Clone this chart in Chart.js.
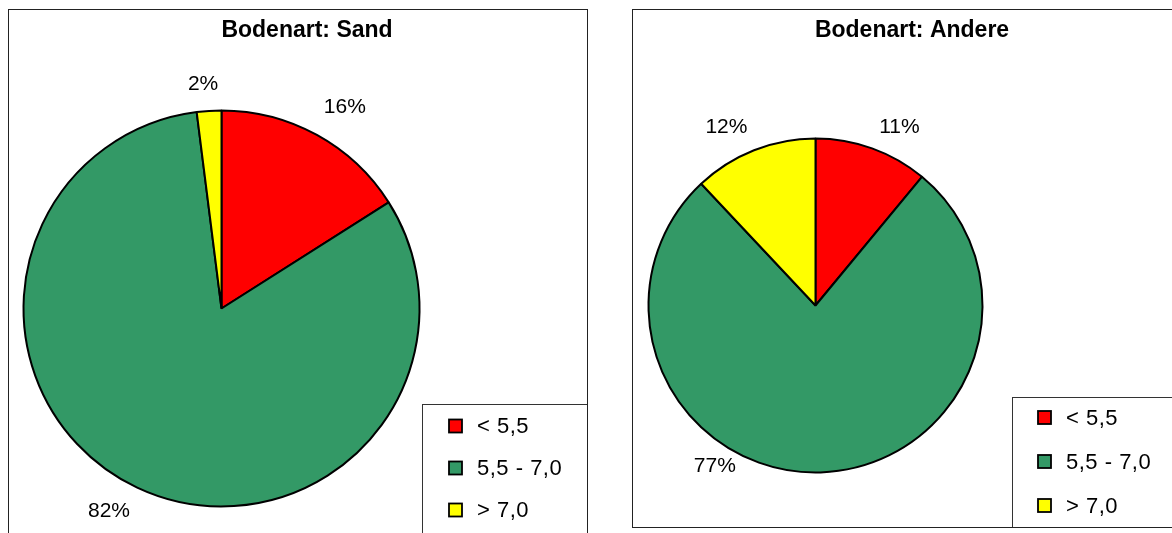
<!DOCTYPE html>
<html>
<head>
<meta charset="utf-8">
<title>pH-Werte nach Bodenart</title>
<script src="https://cdn.jsdelivr.net/npm/chart.js@4"></script>
<style>
  html, body { margin: 0; padding: 0; background: #fff; overflow: hidden; }
  body { width: 1172px; height: 533px; position: relative; }
  .panel { position: absolute; border: 1px solid #222; box-sizing: border-box; background: #fff; }
  #panelSand { left: 8px; top: 9px; width: 580px; height: 545px; }
  #panelAndere { left: 632px; top: 9px; width: 560px; height: 519px; }
  canvas { display: block; }
</style>
</head>
<body>
<div class="panel" id="panelSand"><canvas id="chartSand" width="578" height="543"></canvas></div>
<div class="panel" id="panelAndere"><canvas id="chartAndere" width="558" height="517"></canvas></div>
<script>
// pH-Klassen und Anteile (%) je Bodenart
const phClasses = ["< 5,5", "5,5 - 7,0", "> 7,0"];
const sandShares = [16, 82, 2];
const andereShares = [11, 77, 12];
const chartTitles = ["Bodenart: Sand", "Bodenart: Andere"];
const sliceColors = ["#ff0000", "#339966", "#ffff00"];

const FONT = "'Liberation Sans', Arial, Helvetica, sans-serif";

// Titel, Prozentbeschriftung und Legendenkasten im Excel-Stil
const soilPiePlugin = {
  id: "soilPie",
  afterDraw(chart, args, opts) {
    const ctx = chart.ctx;
    const ds = chart.data.datasets[0];
    const meta = chart.getDatasetMeta(0);
    const total = ds.data.reduce((a, b) => a + b, 0);

    ctx.save();
    ctx.fillStyle = "#000";
    ctx.textAlign = "center";
    ctx.textBaseline = "middle";

    // Titel
    ctx.font = "bold 23px " + FONT;
    ctx.fillText(opts.title, opts.titleX, opts.titleY);

    // Prozentwerte außerhalb der Segmente
    ctx.font = "21px " + FONT;
    meta.data.forEach((arc, i) => {
      const p = arc.getProps(["x", "y", "startAngle", "endAngle", "outerRadius"], true);
      const nudge = opts.labelNudge[i];
      const mid = (p.startAngle + p.endAngle) / 2 + nudge[0] * Math.PI / 180;
      const r = p.outerRadius + nudge[1];
      const txt = Math.round(ds.data[i] / total * 100) + "%";
      ctx.fillText(txt, p.x + Math.cos(mid) * r, p.y + Math.sin(mid) * r);
    });

    // Legende
    const lg = opts.legend;
    ctx.strokeStyle = "#333";
    ctx.lineWidth = 1;
    ctx.strokeRect(lg.x + 0.5, lg.y + 0.5, lg.w, lg.h);
    ctx.font = "22px " + FONT;
    ctx.letterSpacing = "0.5px";
    ctx.textAlign = "left";
    chart.data.labels.forEach((label, i) => {
      const cy = lg.firstRow + i * lg.rowGap;
      ctx.fillStyle = ds.backgroundColor[i];
      ctx.fillRect(lg.boxX, cy - lg.box / 2, lg.box, lg.box);
      ctx.strokeStyle = "#000";
      ctx.lineWidth = 1.8;
      ctx.strokeRect(lg.boxX, cy - lg.box / 2, lg.box, lg.box);
      ctx.fillStyle = "#000";
      ctx.fillText(label, lg.textX, cy + 1);
    });
    ctx.restore();
  }
};

function makePie(canvasId, values, title, radius, padding, extra) {
  return new Chart(document.getElementById(canvasId), {
    type: "pie",
    data: {
      labels: phClasses,
      datasets: [{
        data: values,
        backgroundColor: sliceColors,
        borderColor: "#000",
        borderWidth: 2,
        radius: radius
      }]
    },
    options: {
      responsive: false,
      animation: false,
      events: [],
      layout: { padding: padding },
      plugins: {
        legend: { display: false },
        title: { display: false },
        tooltip: { enabled: false },
        soilPie: Object.assign({ title: title }, extra)
      }
    },
    plugins: [soilPiePlugin]
  });
}

makePie("chartSand", sandShares, chartTitles[0], 198,
  { left: 0, right: 153, top: 60, bottom: 6 },
  {
    titleX: 298, titleY: 20.5,
    labelNudge: [[2.7, 38], [3.8, 34], [-1.1, 27]],
    legend: { x: 413, y: 394, w: 180, h: 200, boxX: 440, box: 13, textX: 468, firstRow: 416, rowGap: 42 }
  });

makePie("chartAndere", andereShares, chartTitles[1], 167,
  { left: 0, right: 193, top: 80, bottom: 6 },
  {
    titleX: 279, titleY: 20.5,
    labelNudge: [[5.4, 30], [33.8, 23], [-5, 32]],
    legend: { x: 379, y: 387, w: 200, h: 140, boxX: 405, box: 13, textX: 433, firstRow: 407.5, rowGap: 44 }
  });
</script>
</body>
</html>
